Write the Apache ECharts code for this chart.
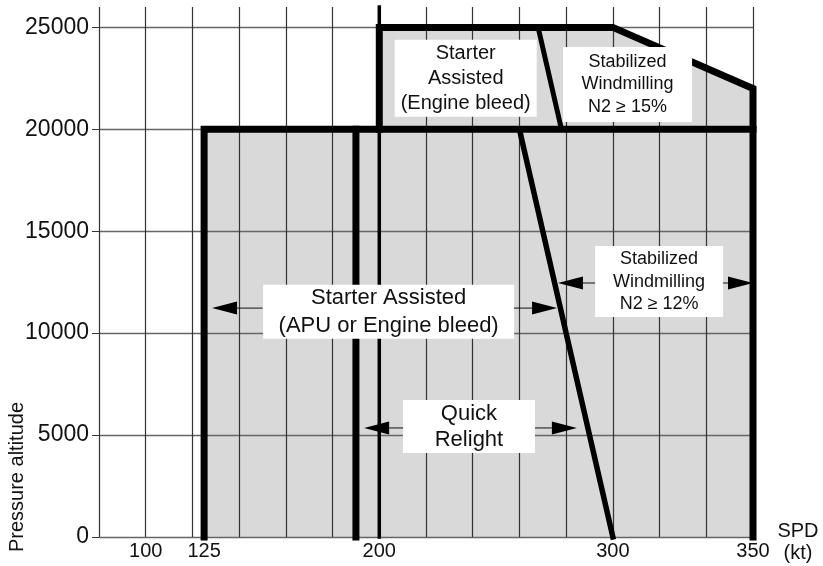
<!DOCTYPE html>
<html>
<head>
<meta charset="utf-8">
<title>Relight envelope</title>
<script src="https://cdn.jsdelivr.net/npm/echarts@6.0.0/dist/echarts.min.js"></script>
<style>
  html, body { margin: 0; padding: 0; background: #fff; }
  #chart { width: 823px; height: 566px; }
</style>
</head>
<body>
<div id="chart"></div>
<script>
// speed scale as drawn: 20 kt per column from 80 kt, the 350 kt limit sits on the last column (360)
var xTickValues = [100, 125, 200, 300, 360];
var xTickLabels = ['100', '125', '200', '300', '350'];
var yTickValues = [0, 5000, 10000, 15000, 20000, 25000];

// shaded envelope [speed, altitude]
var lowerArea = [[125, 0], [125, 20000], [360, 20000], [360, 0]];
var upperArea = [[200, 20000], [200, 25000], [300, 25000], [360, 22000], [360, 20000]];

// boundaries
var lowerEdge = [[125, 0], [125, 20000], [360, 20000]];
var upperEdge = [[200, 20000], [200, 25000], [300, 25000], [360, 22000], [360, 0]];
var quickRelightLimit = [[190, 0], [190, 20000]];
var line200 = [[200, 0], [200, 26000]];
var windmill15Limit = [[268, 25000], [278, 20000]];
var windmill12Limit = [[260, 20000], [300, 0]];

// zone names and where they sit [speed, altitude]
var zoneNames = [
  'Starter\nAssisted\n(Engine bleed)',
  'Stabilized\nWindmilling\nN2 \u2265 15%',
  'Starter Assisted\n(APU or Engine bleed)',
  'Quick\nRelight',
  'Stabilized\nWindmilling\nN2 \u2265 12%'
];
var zoneCenters = [[237, 22500], [306.3, 22200], [204, 11050], [238.4, 5420], [319.8, 12530]];

// range arrows [from speed, to speed, altitude]
var arrows = [
  [150, 128.4, 11230], [257.7, 276.1, 11230],
  [210.2, 193.5, 5350], [266.7, 284.6, 5350],
  [292.4, 276.5, 12460], [347.2, 360, 12460]
];

var zoneStyle = [
  { w: 142, h: 77, size: 20, lh: 25 },
  { w: 129, h: 75, size: 18, lh: 22.5 },
  { w: 251, h: 54, size: 22, lh: 28 },
  { w: 132, h: 53, size: 22, lh: 26 },
  { w: 128, h: 71, size: 18, lh: 22.5 }
];

var font = '"Liberation Sans", Arial, sans-serif';
var areas = [lowerArea, upperArea];

function edge(data, width) {
  return {
    type: 'line',
    data: data,
    symbol: 'none',
    clip: false,
    z: 5,
    lineStyle: { color: '#000', width: width, cap: 'square', join: 'miter' }
  };
}

var chart = echarts.init(document.getElementById('chart'));
var option = {
  animation: false,
  grid: { left: 99, right: 70, top: 7, bottom: 29, outerBoundsMode: 'none' },
  xAxis: {
    type: 'value',
    min: 80,
    max: 360,
    interval: 20,
    z: 3,
    axisLine: { show: false },
    axisTick: { show: false },
    axisLabel: {
      customValues: xTickValues,
      formatter: function (v) { return xTickLabels[xTickValues.indexOf(v)]; },
      fontSize: 20,
      fontFamily: font,
      color: '#111',
      margin: 4
    },
    splitLine: { show: true, lineStyle: { color: '#333', width: 1.2 } }
  },
  yAxis: {
    type: 'value',
    min: 0,
    max: 26000,
    interval: 1000,
    z: 3,
    axisLine: { show: false },
    axisTick: { show: true, customValues: yTickValues, length: 7, lineStyle: { color: '#333' } },
    axisLabel: {
      customValues: yTickValues,
      formatter: function (v) { return String(v); },
      fontSize: 23,
      fontFamily: font,
      color: '#111',
      margin: 10
    },
    splitLine: { show: true, lineStyle: { color: '#666', width: 1.4 } }
  },
  graphic: [
    {
      type: 'text', x: 17, y: 477, rotation: Math.PI / 2,
      style: { text: 'Pressure altitude', fontSize: 20, fontFamily: font, fill: '#111', align: 'center', verticalAlign: 'middle' }
    },
    {
      type: 'text', x: 798, y: 542,
      style: { text: 'SPD\n(kt)', fontSize: 20, fontFamily: font, fill: '#111', align: 'center', verticalAlign: 'middle', lineHeight: 22 }
    }
  ],
  series: [
    {
      type: 'custom',
      z: 1,
      data: areas.map(function (a) { return a[0]; }),
      renderItem: function (params, api) {
        var pts = areas[params.dataIndex].map(function (p) { return api.coord(p); });
        return { type: 'polygon', shape: { points: pts }, style: { fill: '#d9d9d9' } };
      }
    },
    edge(lowerEdge, 7),
    edge(upperEdge, 7),
    edge(quickRelightLimit, 7),
    edge(line200, 3.5),
    edge(windmill15Limit, 5),
    edge(windmill12Limit, 5.5),
    {
      type: 'custom',
      z: 6,
      data: zoneCenters,
      renderItem: function (params, api) {
        var i = params.dataIndex;
        var c = api.coord([api.value(0), api.value(1)]);
        var s = zoneStyle[i];
        return {
          type: 'group',
          children: [
            { type: 'rect', shape: { x: c[0] - s.w / 2, y: c[1] - s.h / 2, width: s.w, height: s.h }, style: { fill: '#fff' } },
            {
              type: 'text', x: c[0], y: c[1],
              style: { text: zoneNames[i], fontSize: s.size, fontFamily: font, fill: '#111', align: 'center', verticalAlign: 'middle', lineHeight: s.lh }
            }
          ]
        };
      }
    },
    {
      type: 'custom',
      z: 7,
      data: arrows,
      encode: { x: [0, 1], y: 2 },
      renderItem: function (params, api) {
        var a = api.coord([api.value(0), api.value(2)]);
        var b = api.coord([api.value(1), api.value(2)]);
        var dir = b[0] > a[0] ? 1 : -1;
        var base = b[0] - dir * 25;
        return {
          type: 'group',
          children: [
            { type: 'line', shape: { x1: a[0], y1: a[1], x2: base, y2: b[1] }, style: { stroke: '#111', lineWidth: 1 } },
            { type: 'polygon', shape: { points: [[b[0], b[1]], [base, b[1] - 6.5], [base, b[1] + 6.5]] }, style: { fill: '#000' } }
          ]
        };
      }
    }
  ]
};

chart.setOption(option);
</script>
</body>
</html>
